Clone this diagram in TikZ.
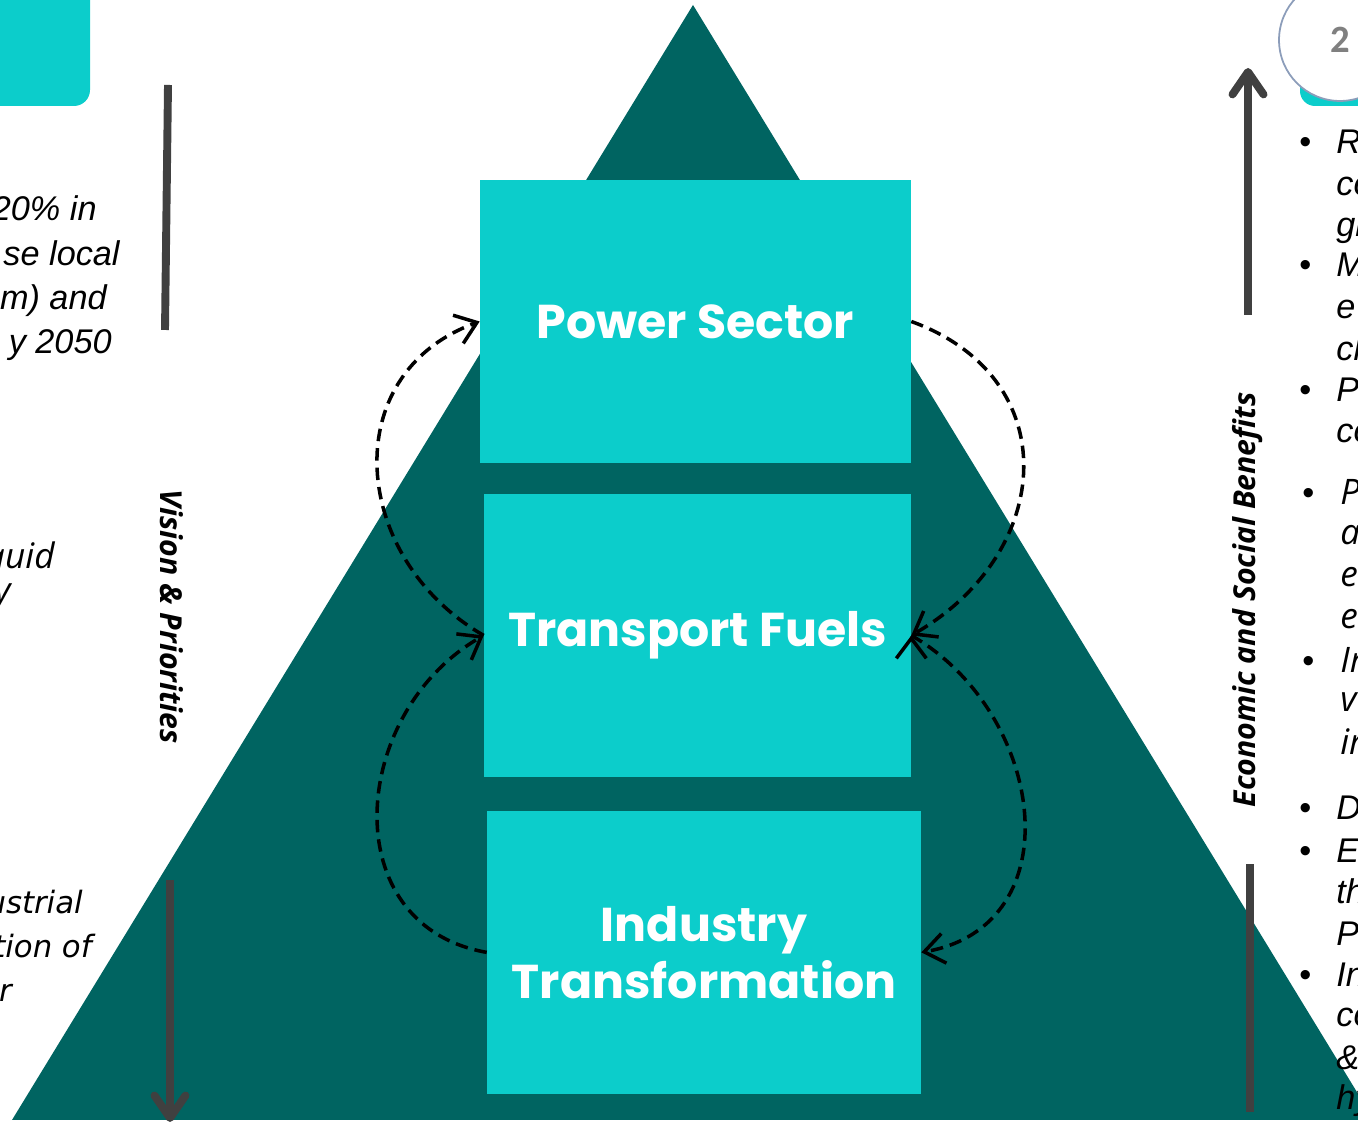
\documentclass[tikz,border=0pt]{standalone}
\usepackage{fontspec}
\usepackage{tikz}
\usetikzlibrary{arrows.meta, positioning}

\newfontfamily\boxfont{Poppins}
\newfontfamily\sidefont{Open Sans}
\newfontfamily\notefont{Liberation Sans}
\newfontfamily\numfont{Carlito}
\newfontfamily\widefont{DejaVu Sans}

\definecolor{pyramid}{HTML}{006461}
\definecolor{sector}{HTML}{0CCDCB}
\definecolor{bargray}{HTML}{404040}
\definecolor{ringblue}{HTML}{8C9DBA}

\tikzset{
  sectorbox/.style={fill=sector, text=white, minimum height=5.66cm,
    align=center, font=\boxfont\bfseries\fontsize{27pt}{32.4pt}\selectfont},
  flow/.style={draw=black, line width=2pt,
    dash pattern=on 0.25cm off 0.14cm,
    -{Straight Barb[length=0.4cm, width=0.6cm]}},
  bar/.style={draw=bargray, line width=4.5pt},
  sidelabel/.style={font=\sidefont\bfseries\itshape\fontsize{17.2pt}{20pt}\selectfont},
  note/.style={inner sep=0pt, anchor=base west,
    font=\notefont\itshape\fontsize{19.5pt}{23pt}\selectfont},
  softnote/.style={note, font=\sidefont\itshape\fontsize{20pt}{24pt}\selectfont},
  widenote/.style={note, font=\widefont\itshape\fontsize{17.5pt}{21pt}\selectfont},
  dot/.style={inner sep=0pt, anchor=base west,
    font=\notefont\fontsize{19.5pt}{23pt}\selectfont}
}

\begin{document}
\begin{tikzpicture}[x=0.02cm, y=0.02cm,
            node distance = 6.28cm,
            on grid]

        \useasboundingbox (0,0) rectangle (1358,1124);
        \clip (0,0) rectangle (1358,1124);

        % Pyramid
        \fill [pyramid] (693,1119) -- (1374,4) -- (12,4) -- cycle;

        % Tab, top left
        \fill [sector, rounded corners=0.32cm] (-40,1018) rectangle (90,1180);

        % Page badge
        \fill [sector, rounded corners=0.3cm] (1300,1018) rectangle (1420,1100);
        \node (badge) [circle,
            draw=ringblue, line width=1pt, fill=white,
            minimum size=2.44cm,
            text=gray, font=\numfont\bfseries\fontsize{22pt}{26pt}\selectfont]
            at (1340,1084) {2};

        % Power Sector
        \node (power) [sectorbox,
            minimum width=8.62cm] at (695.5,802.5) {Power Sector};

        % Transport Fuels
        \node (transport) [sectorbox,
            minimum width=8.54cm,
            below = of power, xshift=0.04cm] {Transport Fuels};

        % Industry Transformation
        \node (industry) [sectorbox,
            minimum width=8.68cm,
            below = 6.34cm of transport, xshift=0.13cm] {Industry\\Transformation};

        % Links between the sectors
        \path [flow]
            (transport.west) edge [out=150, in=200, looseness=1.25] (power.west)
            (industry.west) edge [out=170, in=210, looseness=1.25] (transport.west)
            (power.east) edge [out=-20, in=30, looseness=1.35] (transport.east)
            (transport.east) edge [out=-30, in=10, looseness=1.25] (industry.east)
            ;

        % Left axis
        \node (vision) [sidelabel, rotate=-90] at (172,507) {Vision \& Priorities};
        \coordinate (vtop) at (168,1039);
        \coordinate (vmid) at (165,794);
        \coordinate (vlow) at (170,244);
        \coordinate (vend) at (170,2);
        \draw [bar] (vtop) -- (vmid);
        \draw [bar, -{Straight Barb[round, length=0.45cm, width=0.62cm]}] (vlow) -- (vend);

        % Right axis
        \node (benefits) [sidelabel, rotate=90] at (1248,524) {Economic and Social Benefits};
        \coordinate (bbase) at (1250,12);
        \coordinate (bmid) at (1250,260);
        \coordinate (blow) at (1248,809);
        \coordinate (btip) at (1248,1056);
        \draw [bar] (bbase) -- (bmid);
        \draw [bar, -{Straight Barb[round, length=0.45cm, width=0.62cm]}] (blow) -- (btip);

        % Left column text
        \node (l1) [note, anchor=base east] at (97,903) {20\% in};
        \node (l2) [note, anchor=base east] at (120,858) {se local};
        \node (l3) [note, anchor=base east] at (107,814) {m) and};
        \node (l4) [note, anchor=base east] at (112,770) {y 2050};
        \node (l5) [softnote, anchor=base east] at (55,555) {quid};
        \node (l6) [softnote, anchor=base east] at (11,521) {y};
        \node (l7) [widenote, anchor=base east] at (83,210) {ustrial};
        \node (l8) [widenote, anchor=base east] at (92,166) {tion of};
        \node (l9) [widenote, anchor=base east] at (12,122) {r};

        % Right column bullets
        \node (b1) [dot] at (1299,970) {•};
        \node (r1) [note] at (1336,970) {R};
        \node (r2) [note] at (1336,928) {co};
        \node (r3) [note] at (1336,887) {gr};
        \node (b2) [dot] at (1299,847) {•};
        \node (r4) [note] at (1336,847) {M};
        \node (r5) [note] at (1336,805) {eT};
        \node (r6) [note] at (1336,763) {cl};
        \node (b3) [dot] at (1299,722) {•};
        \node (r7) [note] at (1336,722) {Pe};
        \node (r8) [note] at (1336,681) {co};

        \node (b4) [dot] at (1302,619) {•};
        \node (r9) [softnote] at (1340,619) {P};
        \node (r10) [softnote] at (1340,579) {a};
        \node (r11) [softnote] at (1340,537) {e};
        \node (r12) [softnote] at (1340,495) {ec};
        \node (b5) [dot] at (1302,451) {•};
        \node (r13) [softnote] at (1340,451) {Ir};
        \node (r14) [softnote] at (1340,412) {ve};
        \node (r15) [softnote] at (1340,369) {ir};

        \node (b6) [dot] at (1299,304) {•};
        \node (r16) [note] at (1336,304) {D};
        \node (b7) [dot] at (1299,261) {•};
        \node (r17) [note] at (1336,261) {Es};
        \node (r18) [note] at (1336,220) {th};
        \node (r19) [note] at (1336,178) {Po};
        \node (b8) [dot] at (1299,137) {•};
        \node (r20) [note] at (1336,137) {In};
        \node (r21) [note] at (1336,97) {co};
        \node (r22) [note] at (1336,54) {\&};
        \node (r23) [note] at (1336,14) {hy};

\end{tikzpicture}
\end{document}
